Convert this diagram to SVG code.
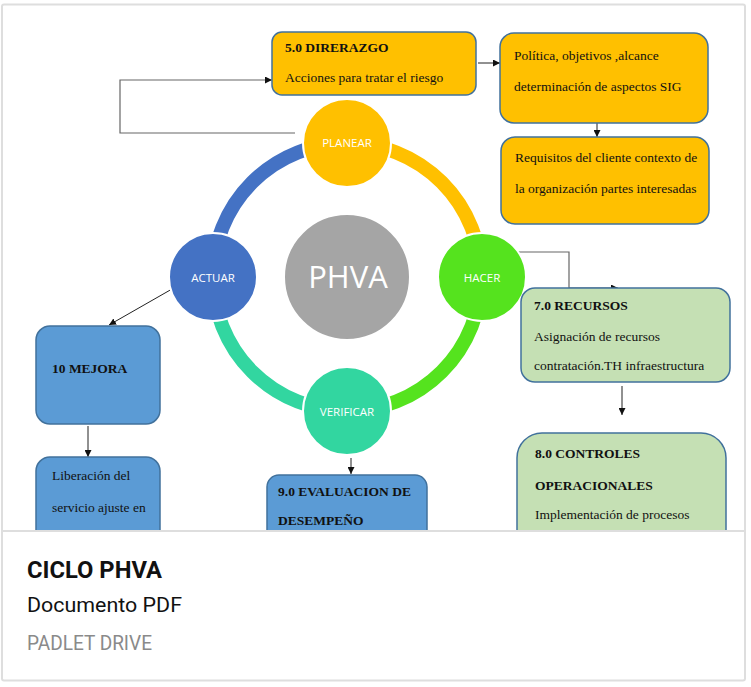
<svg xmlns="http://www.w3.org/2000/svg" width="751" height="687" viewBox="0 0 751 687">
<defs>
<style>
.box{stroke:#41719C;stroke-width:1.5}
.gold{fill:#FFC000}
.blue{fill:#5B9BD5}
.green{fill:#C5E0B4}
.t{font-family:"Liberation Serif","Times New Roman",serif;font-size:13.5px;fill:#111}
.b{font-weight:bold}
.ct{font-family:"Open Sans","Noto Sans",sans-serif;font-size:11.5px;fill:#fff;text-anchor:middle}
.circ{stroke:#fff;stroke-width:2}
.arc{fill:none;stroke-width:14}
.con{fill:none;stroke:#222;stroke-width:1}
.loop{fill:none;stroke:#666;stroke-width:1.2}
.card{font-family:Roboto,"Liberation Sans",sans-serif}
</style>
<marker id="ah" viewBox="0 0 10 10" refX="10" refY="5" markerWidth="7" markerHeight="7" orient="auto" markerUnits="userSpaceOnUse">
<path d="M0,0 L10,5 L0,10 z" fill="#111"/>
</marker>
<clipPath id="clip"><rect x="2" y="5" width="743" height="526"/></clipPath>
</defs>
<rect x="0" y="0" width="751" height="687" fill="#fff"/>
<rect x="2" y="4.5" width="743" height="676" rx="2" fill="#fff" stroke="#dedede" stroke-width="2"/>
<g clip-path="url(#clip)">
<g id="ring">
<path class="arc" stroke="#4472C4" d="M213,277 A134,134 0 0 1 347,143"/>
<path class="arc" stroke="#FFC000" d="M347,143 A134,134 0 0 1 481,277"/>
<path class="arc" stroke="#55E31E" d="M481,277 A134,134 0 0 1 347,411"/>
<path class="arc" stroke="#32D6A0" d="M347,411 A134,134 0 0 1 213,277"/>
</g>
<g id="connectors">
<path class="loop" d="M295,133 H120 V80 H272" marker-end="url(#ah)"/>
<path class="con" d="M478,63 H500" marker-end="url(#ah)"/>
<path class="con" d="M597,123 V137" marker-end="url(#ah)"/>
<path class="loop" d="M518,252 H569 V288 H618" marker-end="url(#ah)"/>
<path class="con" d="M622,386 V415" marker-end="url(#ah)"/>
<path class="con" d="M351,458 V474" marker-end="url(#ah)"/>
<path class="con" d="M172,289 L109,325" marker-end="url(#ah)"/>
<path class="con" d="M88,426 V457" marker-end="url(#ah)"/>
</g>
<g id="phva"><circle cx="347" cy="277" r="63" fill="#A5A5A5" class="circ"/><text x="348" y="288" class="ct" style="font-size:31px">PHVA</text></g>
<g id="planear"><circle cx="347" cy="143" r="44" fill="#FFC000" class="circ"/><text x="347" y="147" class="ct">PLANEAR</text></g>
<g id="hacer"><circle cx="482" cy="277" r="44" fill="#55E31E" class="circ"/><text x="482" y="281.5" class="ct">HACER</text></g>
<g id="verificar"><circle cx="347" cy="411" r="44" fill="#32D6A0" class="circ"/><text x="347" y="416" class="ct">VERIFICAR</text></g>
<g id="actuar"><circle cx="213" cy="277" r="44" fill="#4472C4" class="circ"/><text x="213" y="281.5" class="ct">ACTUAR</text></g>
<g id="direrazgo"><rect x="272" y="32" width="204" height="63" rx="10" class="box gold"/>
<text x="285" y="52" class="t b">5.0 DIRERAZGO</text>
<text x="285" y="82" class="t">Acciones para tratar el riesgo</text></g>
<g id="politica"><rect x="500" y="33" width="208" height="90" rx="14" class="box gold"/>
<text x="514" y="60" class="t">Política, objetivos ,alcance</text>
<text x="514" y="91" class="t">determinación de aspectos SIG</text></g>
<g id="requisitos"><rect x="501" y="137" width="208" height="87" rx="14" class="box gold"/>
<text x="515" y="162" class="t">Requisitos del cliente contexto de</text>
<text x="515" y="193" class="t">la organización partes interesadas</text></g>
<g id="recursos"><rect x="521" y="288" width="209" height="94" rx="14" class="box green"/>
<text x="534" y="310" class="t b">7.0 RECURSOS</text>
<text x="534" y="341" class="t">Asignación de recursos</text>
<text x="534" y="370" class="t">contratación.TH infraestructura</text></g>
<g id="controles"><rect x="517" y="433" width="209" height="140" rx="25" class="box green"/>
<text x="535" y="458" class="t b">8.0 CONTROLES</text>
<text x="535" y="490" class="t b">OPERACIONALES</text>
<text x="535" y="519" class="t">Implementación de procesos</text></g>
<g id="evaluacion"><rect x="267" y="475" width="160" height="100" rx="12" class="box blue"/>
<text x="278" y="496" class="t b">9.0 EVALUACION DE</text>
<text x="278" y="525" class="t b">DESEMPEÑO</text></g>
<g id="mejora"><rect x="36" y="326" width="124" height="98" rx="14" class="box blue"/>
<text x="52" y="373" class="t b">10 MEJORA</text></g>
<g id="liberacion"><rect x="36" y="457" width="124" height="120" rx="14" class="box blue"/>
<text x="52" y="480" class="t">Liberación del</text>
<text x="52" y="512" class="t">servicio ajuste en</text></g>
</g>
<line x1="2" y1="531" x2="745" y2="531" stroke="#dedede" stroke-width="2"/>
<g id="caption" class="card">
<text x="27" y="578" font-size="23" font-weight="bold" fill="#111" textLength="135" lengthAdjust="spacingAndGlyphs">CICLO PHVA</text>
<text x="27" y="612" font-size="21" fill="#111" textLength="155" lengthAdjust="spacingAndGlyphs">Documento PDF</text>
<text x="27" y="650" font-size="19.5" fill="#8a8a8a" textLength="125" lengthAdjust="spacingAndGlyphs">PADLET DRIVE</text>
</g>
</svg>
